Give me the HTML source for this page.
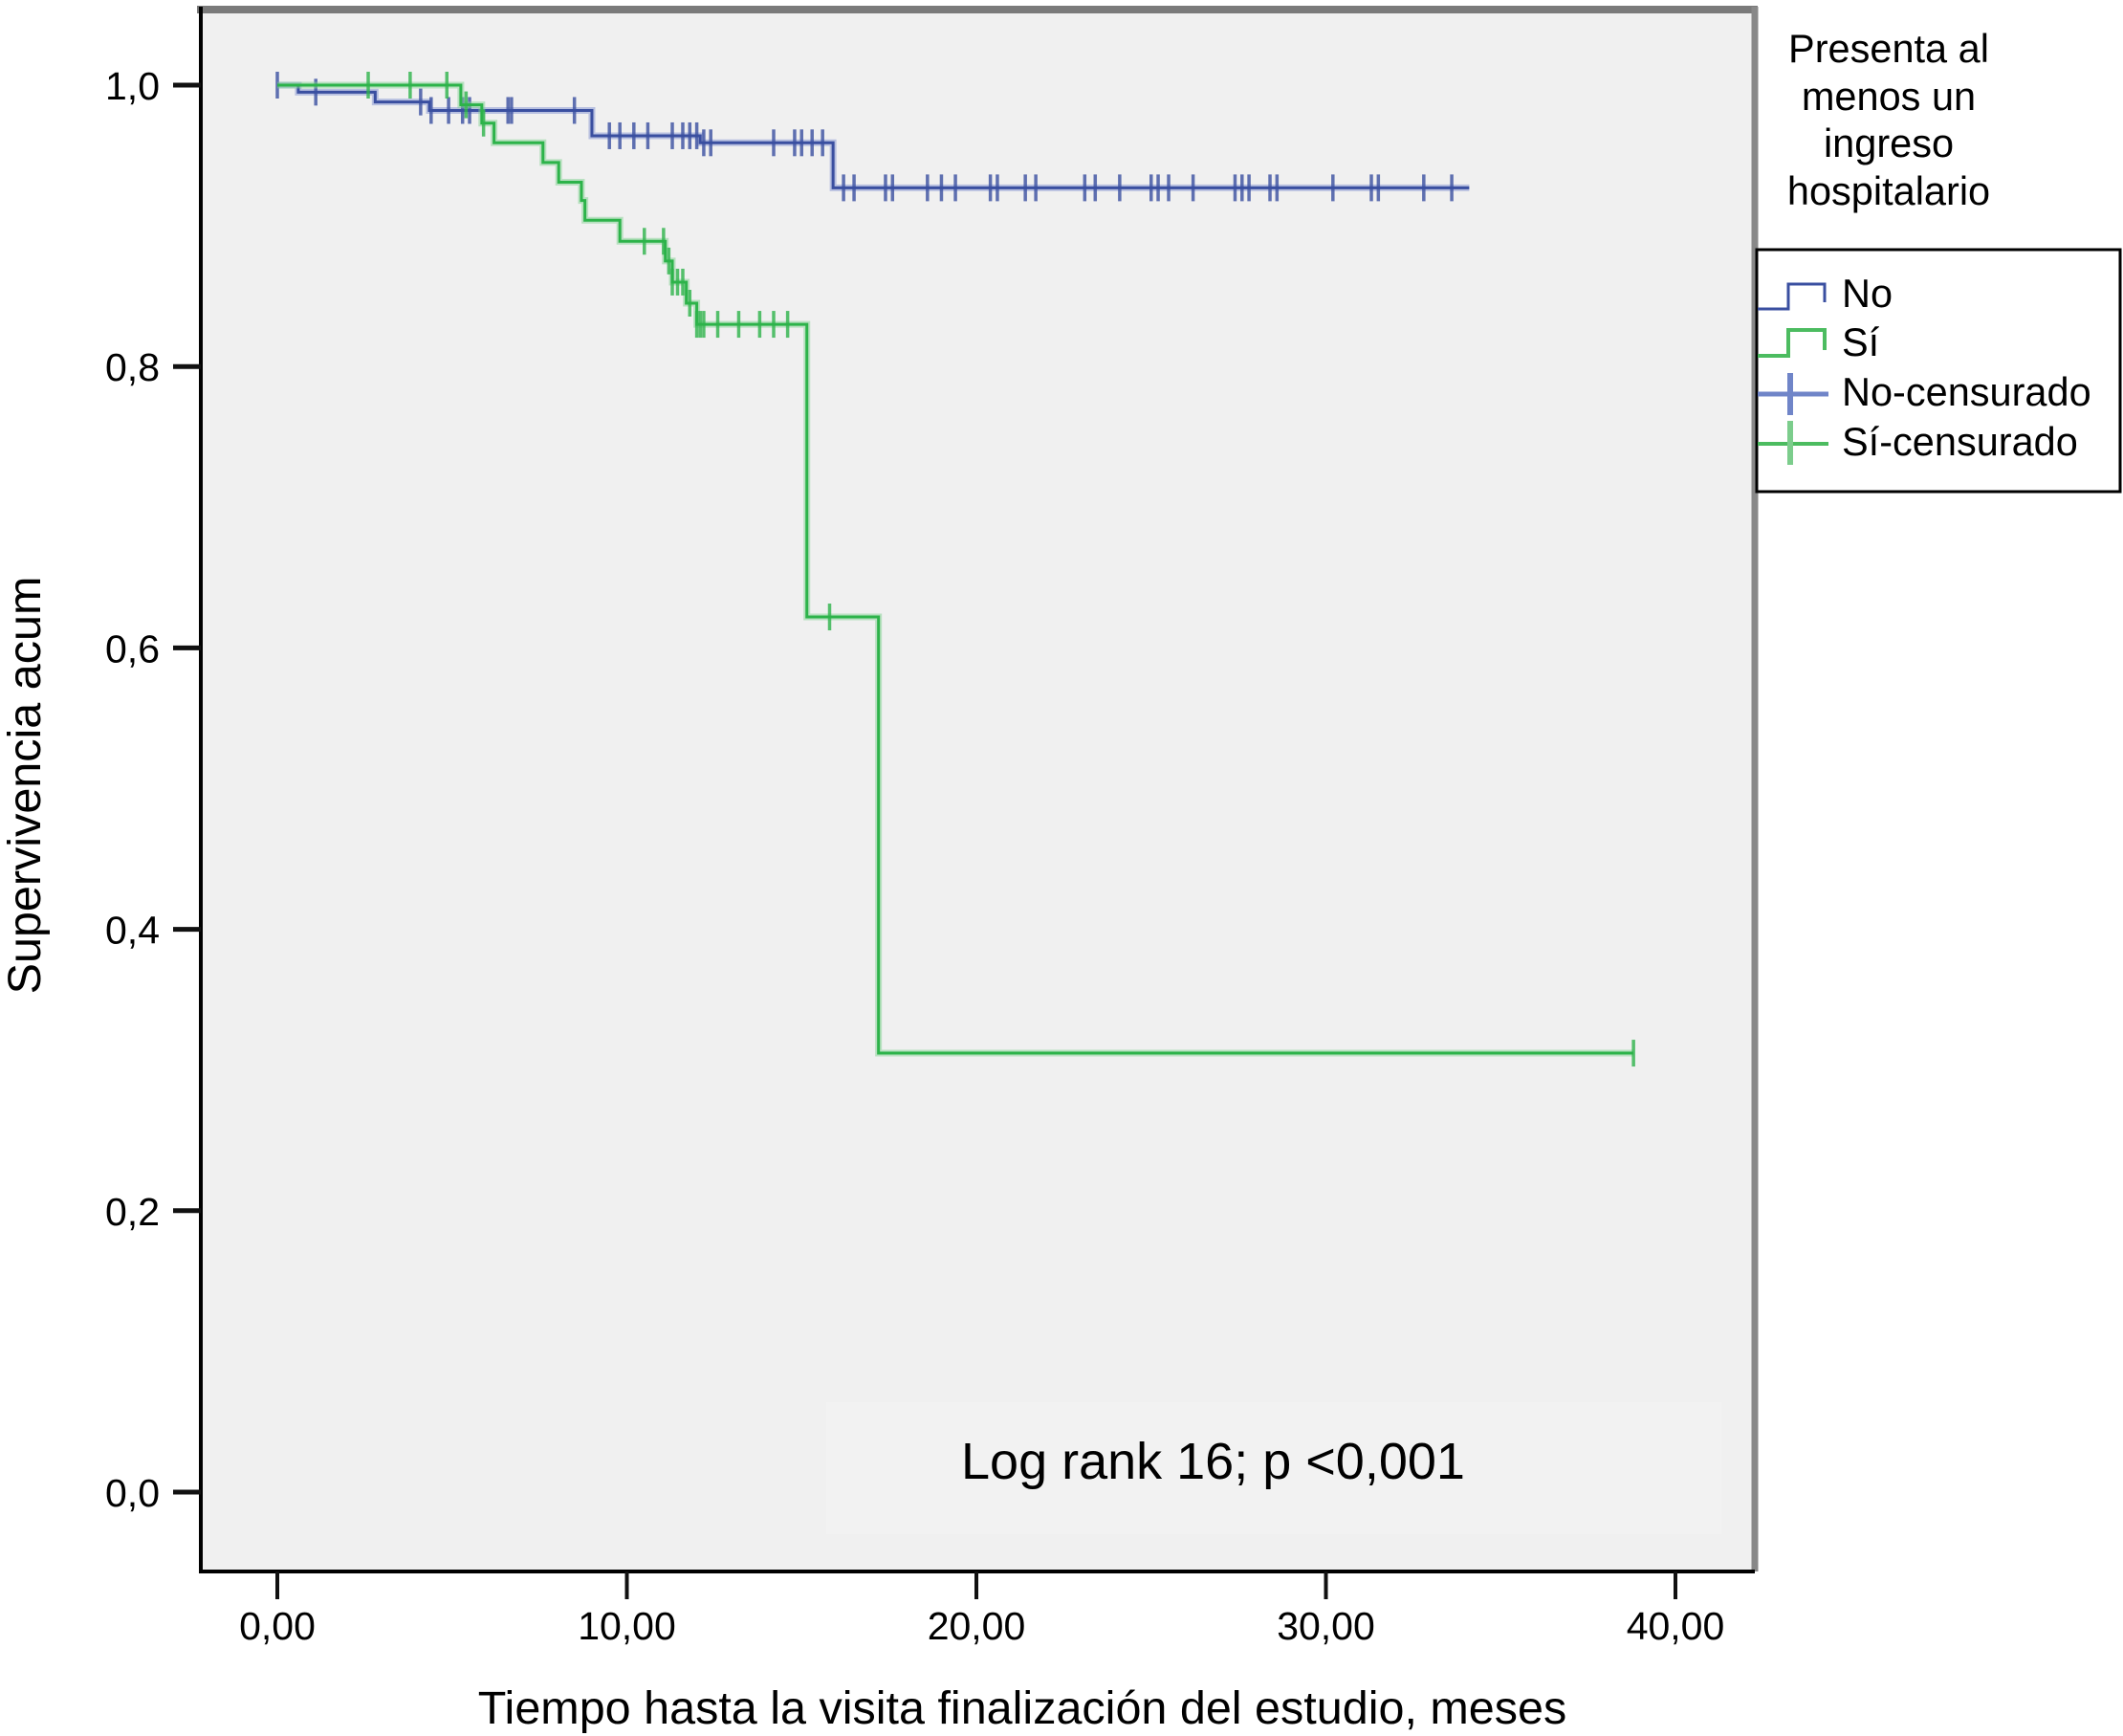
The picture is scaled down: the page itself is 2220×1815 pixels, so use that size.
<!DOCTYPE html>
<html><head><meta charset="utf-8"><style>
html,body{margin:0;padding:0;background:#fff;}
svg{display:block;font-family:"Liberation Sans",sans-serif;}
</style></head><body>
<svg id="chart" width="2220" height="1815" viewBox="0 0 2220 1815">
<rect x="210" y="7" width="1625" height="1636" fill="#f0f0f0"/>
<rect x="864" y="1466" width="936" height="138" fill="#f2f2f2"/>
<line x1="206" y1="10" x2="1838" y2="10" stroke="#7a7a7a" stroke-width="8"/>
<line x1="1835" y1="7" x2="1835" y2="1643" stroke="#888" stroke-width="7"/>
<line x1="210" y1="7" x2="210" y2="1645" stroke="#000" stroke-width="4"/>
<line x1="208" y1="1643" x2="1835" y2="1643" stroke="#000" stroke-width="4"/>
<g id="axes"></g>
<g id="series"></g>
<text x="1005" y="1546" font-size="54">Log rank 16; p &lt;0,001</text>
<text x="1069" y="1802" font-size="48.5" text-anchor="middle">Tiempo hasta la visita finalización del estudio, meses</text>
<text transform="translate(42,821) rotate(-90)" font-size="48.5" text-anchor="middle">Supervivencia acum</text>
<g font-size="41.5" text-anchor="middle">
<text x="1975" y="65">Presenta al</text><text x="1975" y="115">menos un</text><text x="1975" y="164">ingreso</text><text x="1975" y="214">hospitalario</text>
</g>
<rect x="1837" y="261" width="380" height="253" fill="#fff" stroke="#000" stroke-width="3"/>
<g>
<polyline points="1838,323 1870,323 1870,297 1908,297 1908,316" fill="none" stroke="#3a4fa0" stroke-width="3"/>
<text x="1926" y="321" font-size="41.5">No</text></g>
<g>
<polyline points="1838,372 1870,372 1870,345 1908,345 1908,366" fill="none" stroke="#4cbc60" stroke-width="4"/>
<text x="1926" y="372" font-size="41.5">Sí</text></g>
<g>
<line x1="1838" y1="412" x2="1912" y2="412" stroke="#7085c8" stroke-width="5"/>
<line x1="1872" y1="390" x2="1872" y2="434" stroke="#7085c8" stroke-width="6"/>
<text x="1926" y="424" font-size="41.5">No-censurado</text></g>
<g>
<line x1="1838" y1="464" x2="1912" y2="464" stroke="#4cbc60" stroke-width="4"/>
<line x1="1872" y1="440" x2="1872" y2="486" stroke="#7ccd8c" stroke-width="6"/>
<text x="1926" y="476" font-size="41.5">Sí-censurado</text></g>
</svg>
<script>
const yTicks = [0, 0.2, 0.4, 0.6, 0.8, 1.0];
const yTickLabels = ["0,0","0,2","0,4","0,6","0,8","1,0"];
const xTicks = [0, 10, 20, 30, 40];
const xTickLabels = ["0,00","10,00","20,00","30,00","40,00"];
const noTimes = [0, 0.6, 2.8, 4.35, 9.0, 12.1, 15.9, 34.1];
const noSurv  = [1.0, 0.995, 0.988, 0.982, 0.964, 0.959, 0.927, 0.927];
const noCens = [0,1.1,4.1,4.4,4.9,5.3,5.5,6.6,6.7,8.5,9.5,9.8,10.2,10.6,11.3,11.6,11.8,12.0,12.2,12.4,14.2,14.8,15.0,15.3,15.6,16.2,16.5,17.4,17.6,18.6,19.0,19.4,20.4,20.6,21.4,21.7,23.1,23.4,24.1,25.0,25.2,25.5,26.2,27.4,27.6,27.8,28.4,28.6,30.2,31.3,31.5,32.8,33.6];
const siTimes = [0, 5.25, 5.85, 6.2, 7.6, 8.05, 8.7, 8.8, 9.8, 11.1, 11.3, 11.7, 12.0, 15.15, 17.2, 38.8];
const siSurv  = [1.0, 0.986, 0.973, 0.959, 0.945, 0.931, 0.918, 0.904, 0.889, 0.875, 0.86, 0.845, 0.83, 0.622, 0.312, 0.312];
const siCens = [2.6,3.8,4.85,5.4,5.9,10.5,11.05,11.2,11.3,11.45,11.6,11.8,12.0,12.1,12.2,12.6,13.2,13.8,14.2,14.6,15.8,38.8];
const NS="http://www.w3.org/2000/svg";
const X = t => 290 + t*(1752-290)/40;
const Y = v => 1560 - v*(1560-89);
function mk(tag, attrs, parent){const e=document.createElementNS(NS,tag);for(const k in attrs)e.setAttribute(k,attrs[k]);parent.appendChild(e);return e;}
const axes=document.getElementById('axes'), ser=document.getElementById('series');
yTicks.forEach((v,i)=>{
  const l=mk('line',{x1:181,x2:210,y1:Y(v),y2:Y(v),stroke:'#111','stroke-width':5},axes);
  
  
  const t=mk('text',{x:167,y:Y(v)+15,'font-size':41,'text-anchor':'end'},axes);
  t.textContent=yTickLabels[i];
  
  
});
xTicks.forEach((v,i)=>{
  const l=mk('line',{x1:X(v),x2:X(v),y1:1643,y2:1672,stroke:'#111','stroke-width':4},axes);
  
  
  const t=mk('text',{x:X(v),y:1714,'font-size':41,'text-anchor':'middle'},axes);
  t.textContent=xTickLabels[i];
  
  
});
function surv(times,s,t){let v=s[0];for(let i=0;i<times.length;i++){if(times[i]<=t)v=s[i];}return v;}
function drawSeries(times,s,cens,color,halo,name){
  let pts=[];
  for(let i=0;i<times.length;i++){
    if(i>0)pts.push(X(times[i])+','+Y(s[i-1]));
    pts.push(X(times[i])+','+Y(s[i]));
  }
  const h=mk('polyline',{points:pts.join(' '),fill:'none',stroke:halo,'stroke-width':7,'stroke-opacity':0.5},ser);
  
  
  const p=mk('polyline',{points:pts.join(' '),fill:'none',stroke:color,'stroke-width':3},ser);
  
  
  cens.forEach(t=>{
    const y=Y(surv(times,s,t));
    const c=mk('line',{x1:X(t),x2:X(t),y1:y-14,y2:y+14,stroke:color,'stroke-width':3.5,'stroke-opacity':0.8},ser);
    
    
  });
}
drawSeries(noTimes,noSurv,noCens,'#3a4fa0','#8090d0','no');
drawSeries(siTimes,siSurv,siCens,'#2db34a','#80d090','si');
</script>
</body></html>
